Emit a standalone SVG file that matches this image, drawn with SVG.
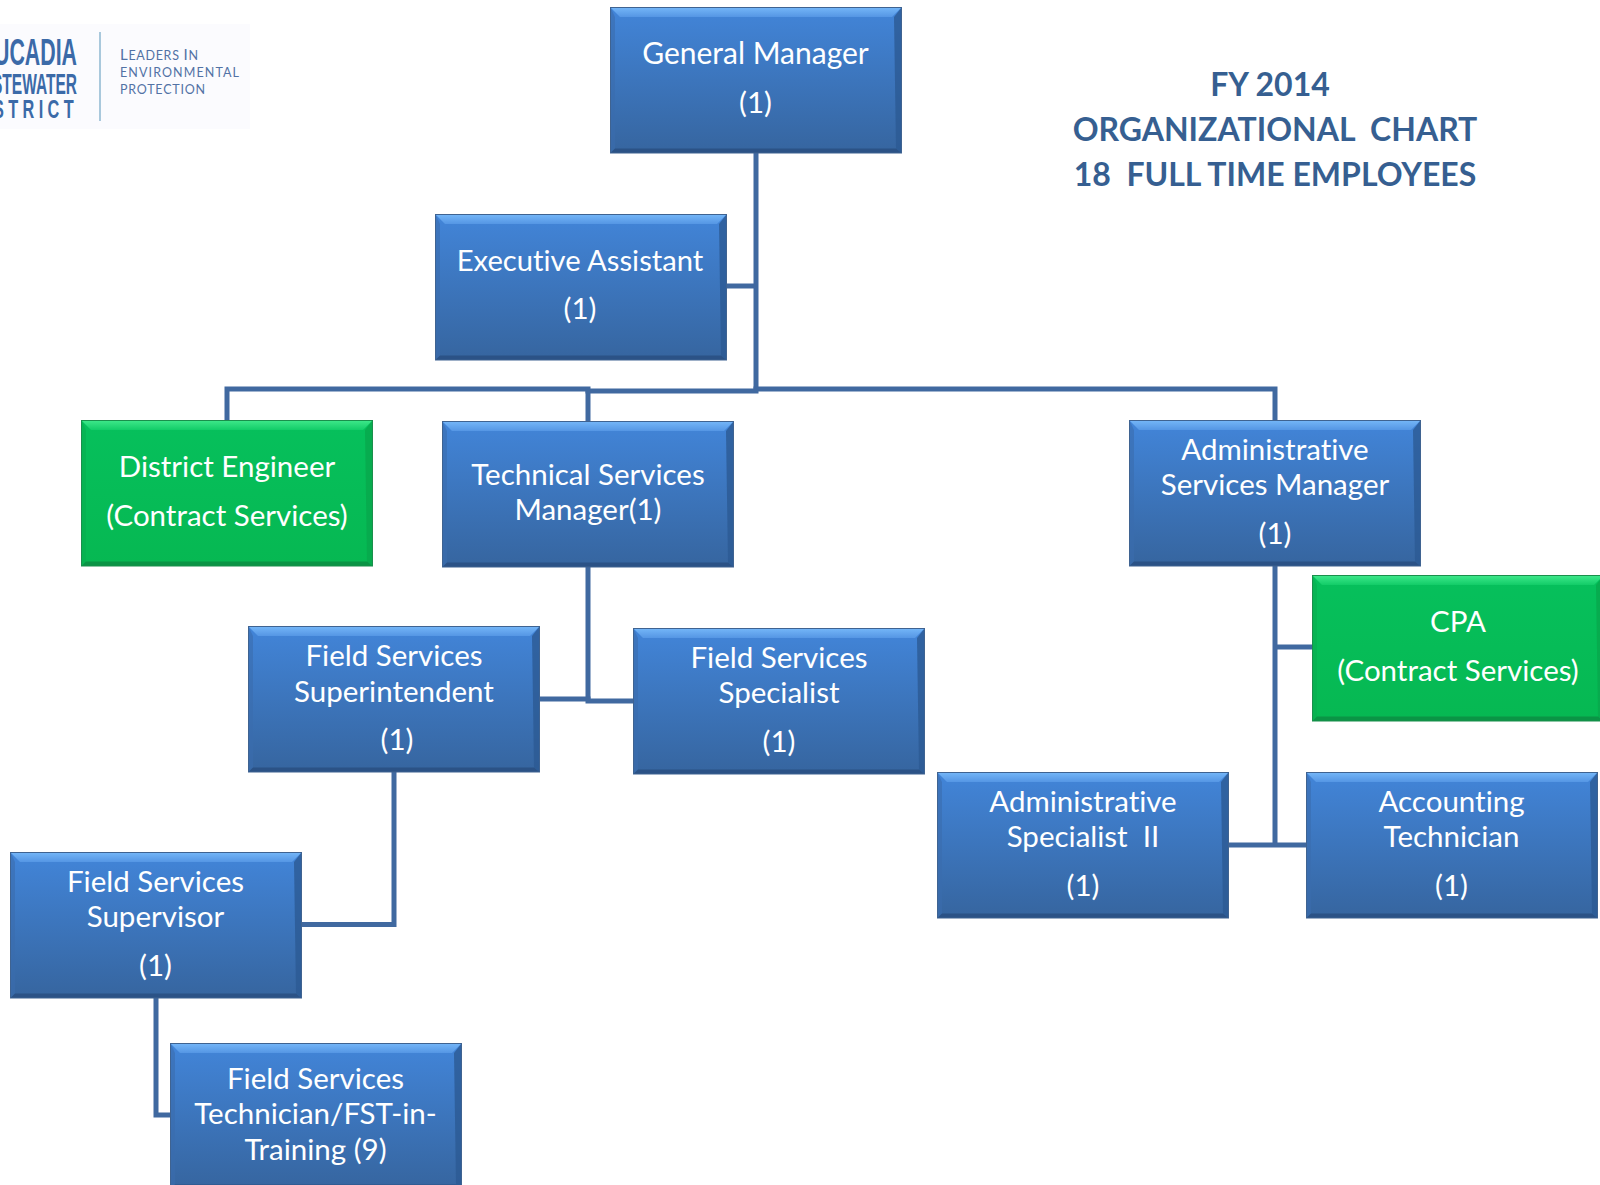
<svg xmlns="http://www.w3.org/2000/svg" xmlns:xlink="http://www.w3.org/1999/xlink" width="1600" height="1185" viewBox="0 0 1600 1185">
<style>
.t{font-family:"Lato","Liberation Sans",sans-serif;font-size:29.500px;fill:#fff;text-anchor:middle;font-variant-ligatures:none;transform:translateY(-.6px)}
.title{font-family:"Lato","Liberation Sans",sans-serif;font-size:32px;font-weight:700;fill:#365f91;text-anchor:middle;font-variant-ligatures:none}
.c{fill:none;stroke:#4069a0;stroke-width:5}
.lg{font-family:"Liberation Sans",sans-serif;font-weight:700;fill:#3b6aa8}
.ls{font-family:"Lato","Liberation Sans",sans-serif;fill:#5272a5;font-size:12.500px}
</style>
<defs>
<linearGradient id="bf" x1="0" y1="0" x2="0" y2="1"><stop offset="0" stop-color="#4285d9"/><stop offset="1" stop-color="#36659f"/></linearGradient>
<linearGradient id="gf" x1="0" y1="0" x2="0" y2="1"><stop offset="0" stop-color="#06c05c"/><stop offset="1" stop-color="#06b852"/></linearGradient>
<linearGradient id="bt" x1="0" y1="0" x2="0" y2="1"><stop offset="0" stop-color="#74b6f8"/><stop offset="1" stop-color="#5596e4"/></linearGradient>
<linearGradient id="gt" x1="0" y1="0" x2="0" y2="1"><stop offset="0" stop-color="#3ee88a"/><stop offset="1" stop-color="#12cc68"/></linearGradient>
<g id="blue">
<rect x="0.500" y="0.500" width="291" height="145.500" fill="url(#bf)"/>
<polygon points="0.500,0.500 291.500,0.500 282,10 10,10" fill="url(#bt)"/>
<polygon points="0.500,0.500 5,10 5,141.500 0.500,146" fill="#3a6cad" fill-opacity=".6"/>
<polygon points="291.500,0.500 284,10 286,141.500 291.500,146" fill="#2c5a94" fill-opacity=".8"/>
<polygon points="0.500,146 5,141.500 286,141.500 291.500,146" fill="#2b5286"/>
<rect x="0.500" y="0.500" width="291" height="145.500" fill="none" stroke="#3f6391" stroke-width="1"/>
</g>
<g id="green">
<rect x="0.500" y="0.500" width="291" height="145.500" fill="url(#gf)"/>
<polygon points="0.500,0.500 291.500,0.500 282,10 10,10" fill="url(#gt)"/>
<polygon points="0.500,0.500 5,10 5,141.500 0.500,146" fill="#08ae50" fill-opacity=".6"/>
<polygon points="291.500,0.500 284,10 286,141.500 291.500,146" fill="#08a84c" fill-opacity=".8"/>
<polygon points="0.500,146 5,141.500 286,141.500 291.500,146" fill="#0a9445"/>
<rect x="0.500" y="0.500" width="291" height="145.500" fill="none" stroke="#1a8f4c" stroke-width="1"/>
</g>
</defs>
<rect width="1600" height="1185" fill="#fff"/>
<g id="logo">
<rect x="0" y="24" width="250" height="105" fill="#fbfbfe"/>
<rect x="99" y="32" width="2" height="89" fill="#a9c8dc"/>
<text class="lg" x="-6" y="65" textLength="83" lengthAdjust="spacingAndGlyphs" style="font-size:37px">UCADIA</text>
<text class="lg" x="-8" y="94" textLength="85" lengthAdjust="spacingAndGlyphs" style="font-size:30px">STEWATER</text>
<text class="lg" x="-7" y="118" textLength="85" lengthAdjust="spacingAndGlyphs" style="font-size:26px;letter-spacing:7px">STRICT</text>
<text class="ls" x="120" y="60" textLength="78"><tspan font-size="15">L</tspan>EADERS <tspan font-size="15">I</tspan>N</text>
<text class="ls" x="120" y="77" textLength="119">ENVIRONMENTAL</text>
<text class="ls" x="120" y="94" textLength="85">PROTECTION</text>
</g>
<g id="title">
<text class="title" x="1270" y="96">FY 2014</text>
<text class="title" x="1275" y="141" xml:space="preserve">ORGANIZATIONAL  CHART</text>
<text class="title" x="1275" y="186" xml:space="preserve">18  FULL TIME EMPLOYEES</text>
</g>
<g id="connectors">
<path class="c" d="M756 152V389"/>
<path class="c" d="M725 286H756"/>
<path class="c" d="M227 420V389H588V391H756V389H1275V420"/>
<path class="c" d="M588 390V421"/>
<path class="c" d="M588 566V700"/>
<path class="c" d="M540 699H588V701H633"/>
<path class="c" d="M394 771V924.500H301"/>
<path class="c" d="M156 997V1115H170"/>
<path class="c" d="M1275 565V845"/>
<path class="c" d="M1275 647H1312"/>
<path class="c" d="M1229 845H1306"/>
</g>
<g id="general-manager"><use xlink:href="#blue" x="610" y="7"/><text class="t" x="755.500" y="65" style="font-size:30px">General Manager</text><text class="t" x="755.500" y="114">(1)</text></g>
<g id="executive-assistant"><use xlink:href="#blue" x="435" y="214"/><text class="t" x="580" y="272" style="font-size:29.200px">Executive Assistant</text><text class="t" x="580" y="320">(1)</text></g>
<g id="district-engineer"><use xlink:href="#green" x="81" y="420"/><text class="t" x="227" y="478">District Engineer</text><text class="t" x="227" y="527">(Contract Services)</text></g>
<g id="technical-services-manager"><use xlink:href="#blue" x="442" y="421"/><text class="t" x="588" y="486">Technical Services</text><text class="t" x="588" y="521">Manager(1)</text></g>
<g id="administrative-services-manager"><use xlink:href="#blue" x="1129" y="420"/><text class="t" x="1275" y="461">Administrative</text><text class="t" x="1275" y="496">Services Manager</text><text class="t" x="1275" y="545">(1)</text></g>
<g id="cpa"><use xlink:href="#green" x="1312" y="575"/><text class="t" x="1458" y="633">CPA</text><text class="t" x="1458" y="682">(Contract Services)</text></g>
<g id="field-services-superintendent"><use xlink:href="#blue" x="248" y="626"/><text class="t" x="394" y="667">Field Services</text><text class="t" x="394" y="703">Superintendent</text><text class="t" x="397" y="751">(1)</text></g>
<g id="field-services-specialist"><use xlink:href="#blue" x="633" y="628"/><text class="t" x="779" y="669">Field Services</text><text class="t" x="779" y="704">Specialist</text><text class="t" x="779" y="753">(1)</text></g>
<g id="administrative-specialist"><use xlink:href="#blue" x="937" y="772"/><text class="t" x="1083" y="813">Administrative</text><text class="t" x="1083" y="848" xml:space="preserve">Specialist  II</text><text class="t" x="1083" y="897">(1)</text></g>
<g id="accounting-technician"><use xlink:href="#blue" x="1306" y="772"/><text class="t" x="1451.500" y="813">Accounting</text><text class="t" x="1451.500" y="848">Technician</text><text class="t" x="1451.500" y="897">(1)</text></g>
<g id="field-services-supervisor"><use xlink:href="#blue" x="10" y="852"/><text class="t" x="155.500" y="893">Field Services</text><text class="t" x="155.500" y="928">Supervisor</text><text class="t" x="155.500" y="977">(1)</text></g>
<g id="field-services-technician"><use xlink:href="#blue" x="170" y="1043"/><text class="t" x="315.500" y="1090">Field Services</text><text class="t" x="315.500" y="1125">Technician/FST-in-</text><text class="t" x="315.500" y="1161">Training (9)</text></g>
</svg>
